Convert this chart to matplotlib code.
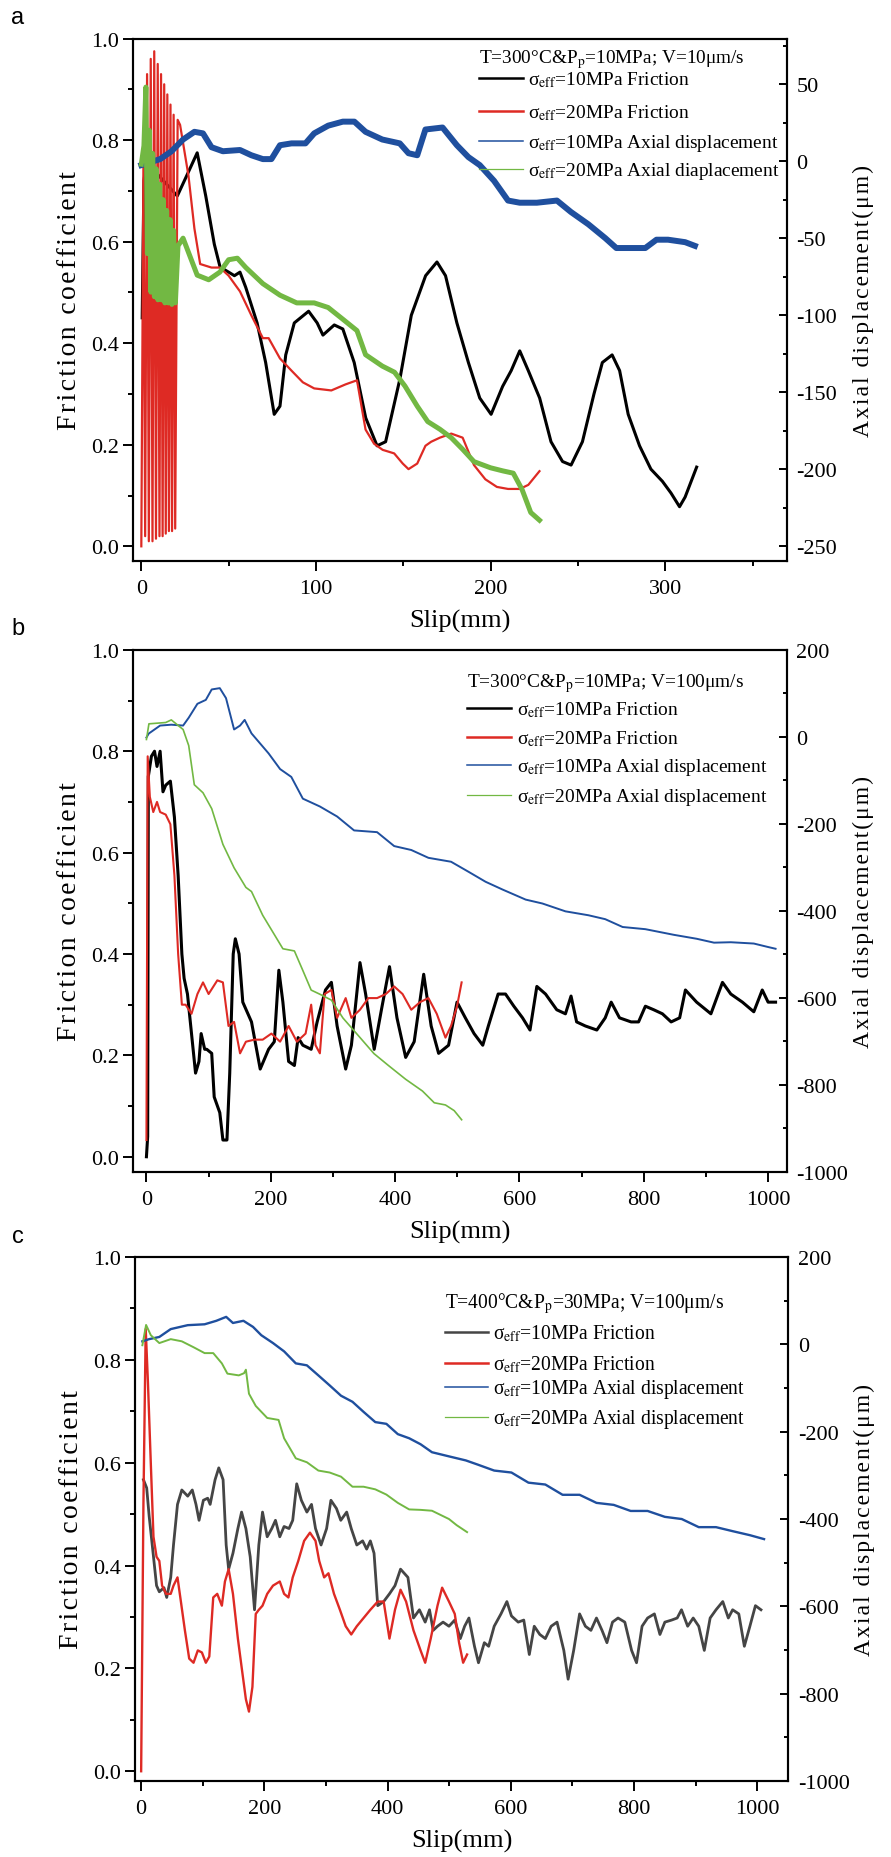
import matplotlib
matplotlib.use("Agg")
import matplotlib.pyplot as plt
from matplotlib.lines import Line2D
from matplotlib.ticker import MultipleLocator

plt.rcParams["font.family"] = ["Liberation Serif", "DejaVu Serif"]
plt.rcParams["mathtext.fontset"] = "stix"
plt.rcParams["axes.unicode_minus"] = False

BLACK = "#000000"
GREY = "#454545"
RED = "#de2a24"
BLUE = "#1f4f9e"
GREEN = "#72b843"

# ---- panel a : T=300C, V=10um/s ----
A_BLACK_X = [0.5, 1.5, 3, 10, 18, 20.6, 26, 32, 36.9, 41.8, 45.1, 50, 53.3, 56.5, 59.8, 66.3, 71.2,
             76.1, 79.4, 82.7, 87.6, 95.8, 100.7, 104, 110.5, 115.4, 121.9, 128.5, 135, 139.9, 148.1,
             154.6, 162.8, 169.3, 174.2, 180.7, 187.3, 193.8, 200.3, 206.9, 211.8, 216.7, 221.6,
             228.1, 234.6, 241.2, 246.1, 252.6, 259.2, 264, 269.6, 273.9, 278.8, 285.3, 291.8,
             298.4, 303.3, 308.2, 311.4, 318]
A_BLACK_Y = [0.45, 0.72, 0.76, 0.73, 0.70, 0.69, 0.73, 0.775, 0.69, 0.595, 0.55, 0.54, 0.533, 0.54,
             0.51, 0.44, 0.362, 0.26, 0.276, 0.377, 0.44, 0.463, 0.44, 0.416, 0.436, 0.428, 0.362,
             0.253, 0.198, 0.206, 0.33, 0.455, 0.533, 0.56, 0.533, 0.44, 0.362, 0.292, 0.26, 0.315,
             0.346, 0.385, 0.346, 0.292, 0.206, 0.167, 0.16, 0.206, 0.30, 0.362, 0.377, 0.346, 0.26,
             0.198, 0.152, 0.128, 0.105, 0.078, 0.097, 0.156]

A_RED_X = [0, 1.2, 2.2, 3.3, 4.3, 5.4, 6.4, 7.4, 8.4, 9.4, 10.4, 11.3, 12.2, 13.1, 14.0, 14.9, 15.8,
           16.7, 17.6, 18.5, 19.4, 20.8, 22.2, 27, 30.4, 33.7, 40.2, 45, 50, 56.5, 63, 69.6, 72.9,
           79.4, 86, 92.5, 99, 108.8, 117, 123.5, 128.4, 133.3, 138.2, 144.8, 149.7, 153, 158,
           162.7, 166, 171, 177.5, 184, 190.5, 197, 203.6, 210, 216.7, 221.6, 228]
A_RED_Y = [0.0, 0.75, 0.02, 0.93, 0.01, 0.96, 0.01, 0.975, 0.015, 0.95, 0.02, 0.93, 0.02, 0.91, 0.025,
           0.89, 0.03, 0.87, 0.03, 0.85, 0.035, 0.84, 0.83, 0.73, 0.626, 0.556, 0.549, 0.549, 0.533,
           0.502, 0.455, 0.41, 0.41, 0.37, 0.346, 0.323, 0.311, 0.307, 0.319, 0.327, 0.23, 0.202,
           0.19, 0.183, 0.163, 0.152, 0.163, 0.198, 0.206, 0.214, 0.222, 0.214, 0.16, 0.132, 0.117,
           0.113, 0.113, 0.121, 0.148]

A_BLUE_X = [0, 10.8, 17.3, 23.9, 30.4, 35.3, 40.2, 46.7, 56.5, 63, 69.6, 74.5, 79.4, 86, 94, 99, 107,
            115.4, 122, 128.4, 138, 148, 153, 158, 162.7, 172.5, 180.7, 187.3, 193.8, 202, 210,
            216.7, 226.5, 238, 246, 256, 265.7, 272, 278.8, 288.6, 295, 301.6, 311.4, 317]
A_BLUE_Y = [-2.6, 1.3, 6.4, 14, 19, 18, 9, 6.4, 7.2, 3.8, 1.3, 1.3, 10.3, 11.5, 11.5, 18, 23, 25.6, 25.6,
            19, 14, 11.5, 5.1, 3.8, 20.5, 21.8, 10.3, 2.6, -2.6, -12.8, -25.6, -27, -27, -25.6, -33,
            -41, -50, -56.4, -56.4, -56.4, -51, -51, -52.6, -55]

A_GREEN_X = [0, 1.5, 2.6, 3.5, 4.5, 5.5, 6.5, 7.5, 8.5, 9.5, 10.5, 11.5, 12.5, 13.5, 14.5, 15.5, 16.5,
             17.5, 18.5, 19.5, 21, 23.9, 32, 38.6, 45, 50, 55, 59.8, 69.6, 79.4, 89, 99, 107, 115.4,
             123.5, 128.4, 138, 145, 151, 158, 164, 171, 177.5, 184, 190.5, 200, 207, 213, 218, 223,
             228]
A_GREEN_Y = [-2, 10, 48, -60, 20, -85, 5, -88, -5, -90, -15, -90, -25, -92, -32, -92, -38, -93, -45,
             -92, -55, -50, -74, -77, -72, -64, -63, -69, -79.5, -87, -92, -92, -95, -102.6, -110,
             -125.6, -133, -137, -146, -159, -169, -174, -179.5, -187, -195, -199, -201, -202.5, -213,
             -228, -233]

# ---- panel b : T=300C, V=100um/s ----
B_BLACK_X = [0, 2, 3, 8, 13, 17, 22, 26.6, 31, 38.5, 45, 51, 57, 60.6, 66, 72.5, 79, 84.5, 88, 93.7,
             97, 105, 109, 118, 123, 129.5, 134, 139.6, 143, 149, 155, 169, 183, 196.5, 205.7, 213,
             219.5, 228.7, 238, 244, 251.6, 265, 274.6, 288, 297.5, 306.7, 320.5, 329.7, 343.5,
             352.6, 366.4, 378, 391, 403, 417, 430.7, 446, 458, 470, 486, 499.6, 513, 527, 541, 550,
             565.7, 577.6, 591, 605, 617, 628, 642, 660, 674, 683, 692, 706, 724.5, 738, 747.6, 761,
             779.6, 791.6, 802.6, 816, 830, 844, 857.7, 867, 885, 908, 926.6, 940, 958.7, 977, 990.6,
             1000, 1012]
B_BLACK_Y = [0.0, 0.04, 0.75, 0.79, 0.80, 0.77, 0.80, 0.72, 0.733, 0.741, 0.67, 0.555, 0.40, 0.352,
             0.321, 0.243, 0.165, 0.188, 0.243, 0.212, 0.212, 0.204, 0.118, 0.087, 0.033, 0.033,
             0.165, 0.40, 0.43, 0.40, 0.305, 0.266, 0.173, 0.212, 0.227, 0.368, 0.305, 0.188, 0.18,
             0.235, 0.22, 0.212, 0.266, 0.329, 0.344, 0.258, 0.173, 0.22, 0.383, 0.321, 0.212, 0.29,
             0.375, 0.274, 0.196, 0.227, 0.36, 0.258, 0.204, 0.22, 0.305, 0.274, 0.243, 0.22, 0.258,
             0.321, 0.321, 0.297, 0.274, 0.25, 0.336, 0.321, 0.29, 0.282, 0.317, 0.266, 0.258, 0.25,
             0.274, 0.305, 0.274, 0.266, 0.266, 0.297, 0.29, 0.282, 0.266, 0.274, 0.329, 0.305, 0.282,
             0.344, 0.321, 0.305, 0.286, 0.329, 0.305, 0.305]

B_RED_X = [0, 2, 5.5, 11, 17, 22, 31, 38.5, 45, 51, 57, 63, 72.5, 82, 91, 100, 114, 123, 132, 141,
           150.6, 160, 173.6, 187, 201, 215, 228.7, 242, 256, 265, 272, 279, 286.5, 297.5, 306.7,
           320.5, 329.7, 343.5, 357, 371, 385, 398.5, 412, 426, 440, 453.6, 467, 481, 490, 499.6, 507]
B_RED_Y = [0.033, 0.79, 0.71, 0.68, 0.70, 0.68, 0.675, 0.656, 0.555, 0.40, 0.30, 0.30, 0.282, 0.321,
           0.344, 0.321, 0.348, 0.344, 0.258, 0.266, 0.204, 0.227, 0.231, 0.231, 0.243, 0.227, 0.258,
           0.227, 0.243, 0.30, 0.22, 0.204, 0.321, 0.329, 0.274, 0.313, 0.274, 0.29, 0.313, 0.313,
           0.321, 0.336, 0.321, 0.29, 0.305, 0.313, 0.282, 0.235, 0.258, 0.297, 0.344]

B_BLUE_X = [0, 3.7, 22, 40, 59, 68, 82, 95.5, 105, 118, 128, 141, 150.6, 158, 169, 196.5, 215, 233,
            251.6, 279, 306.7, 334, 371, 398.5, 426, 453.6, 490, 518, 545.5, 573, 610, 637, 674, 711,
            738, 766, 802.6, 848.5, 885, 913, 940, 977, 1000, 1012]
B_BLUE_Y = [-1.5, 7.6, 26, 28, 26, 44, 76, 85, 109, 112, 89, 17, 26, 39, 8, -38, -74, -92, -142, -160,
            -183, -215, -219, -251, -260, -278, -287, -310, -333, -351, -374, -383, -401, -410, -419,
            -437, -442, -455, -464, -473, -472, -475, -483, -487]

B_GREEN_X = [0, 4, 31, 40, 59, 68, 77, 91, 105, 123, 141, 160, 169, 187, 206, 219.5, 238, 251.6, 265,
             279, 297.5, 316, 343.5, 366, 389, 417, 444, 463, 481, 495, 507]
B_GREEN_Y = [-6, 30, 33, 39, 17, -20, -110, -128.5, -165, -247, -301, -346, -355.5, -410, -455, -487,
             -492, -537, -582, -591.5, -605, -646, -691, -728, -755, -787, -814, -841, -846, -859, -880]

# ---- panel c : T=400C, Pp=30MPa, V=100um/s ----
C_BLACK_X = [3.7, 9, 13, 18, 25, 29.5, 37, 41.5, 48, 52.5, 59, 66, 75.6, 83, 89, 94, 101, 108, 112, 120,
             126, 133, 138, 142, 149, 157, 163, 170, 177, 184, 191, 197, 204.6, 212, 218, 225, 232, 240,
             246, 252.5, 260, 269, 276.5, 283, 292, 301, 308, 317, 324, 333.6, 341, 350, 359.5, 366,
             372, 378, 384, 393.6, 403, 412, 421, 433, 442, 451.6, 461, 468, 474, 481, 490, 499.6,
             509, 518, 525, 532, 541, 547.5, 557, 564, 573, 584, 593.6, 601, 612, 621, 630, 638, 647,
             656, 665.5, 675, 686, 693, 702, 711.6, 721, 730, 739, 748, 756, 765, 774, 785, 796, 804,
             813, 822, 833, 842, 850, 861, 870, 877, 887, 896, 905, 914, 923.5, 933, 944, 953, 960,
             970, 979, 988, 997, 1006]
C_BLACK_Y = [0.567, 0.551, 0.496, 0.44, 0.361, 0.349, 0.357, 0.338, 0.377, 0.44, 0.519, 0.547, 0.535,
             0.547, 0.519, 0.488, 0.527, 0.531, 0.519, 0.567, 0.59, 0.567, 0.44, 0.393, 0.424, 0.472,
             0.504, 0.472, 0.417, 0.314, 0.44, 0.504, 0.456, 0.472, 0.488, 0.456, 0.476, 0.472, 0.488,
             0.559, 0.527, 0.504, 0.519, 0.472, 0.44, 0.472, 0.527, 0.511, 0.488, 0.504, 0.472, 0.44,
             0.448, 0.432, 0.448, 0.424, 0.322, 0.33, 0.345, 0.361, 0.393, 0.377, 0.298, 0.314, 0.29,
             0.314, 0.274, 0.282, 0.29, 0.282, 0.294, 0.258, 0.282, 0.298, 0.243, 0.211, 0.25, 0.243,
             0.282, 0.306, 0.33, 0.302, 0.29, 0.294, 0.227, 0.282, 0.266, 0.258, 0.282, 0.29, 0.235,
             0.179, 0.235, 0.306, 0.282, 0.274, 0.298, 0.274, 0.25, 0.29, 0.298, 0.29, 0.235, 0.211,
             0.282, 0.298, 0.306, 0.266, 0.29, 0.294, 0.298, 0.314, 0.282, 0.298, 0.282, 0.235, 0.298,
             0.314, 0.33, 0.298, 0.314, 0.306, 0.243, 0.282, 0.322, 0.314]

C_RED_X = [0, 3.7, 7.4, 11, 15.7, 20, 25, 29.5, 34, 40.5, 48, 52.5, 59, 64.5, 71, 78, 85, 92, 98.6,
           105, 110.6, 117, 123.5, 131, 136, 142, 149, 157, 163, 170, 175, 180.6, 186, 191, 197,
           204.6, 214, 225, 232, 239, 246, 255, 264.5, 274, 283, 289, 297, 304, 313, 322.6, 332, 341,
           350, 361, 372, 384, 393.6, 403, 412, 421, 430, 442, 453.5, 461, 470, 481, 488.5, 499.6,
           509, 516, 522.6, 529]
C_RED_Y = [0.0, 0.52, 0.86, 0.757, 0.598, 0.456, 0.417, 0.409, 0.361, 0.345, 0.345, 0.361, 0.377, 0.33,
           0.274, 0.219, 0.211, 0.235, 0.231, 0.211, 0.223, 0.338, 0.345, 0.322, 0.369, 0.393, 0.345,
           0.258, 0.203, 0.14, 0.116, 0.164, 0.306, 0.314, 0.322, 0.345, 0.361, 0.369, 0.345, 0.338,
           0.377, 0.409, 0.448, 0.464, 0.448, 0.409, 0.377, 0.385, 0.345, 0.314, 0.282, 0.266, 0.282,
           0.298, 0.314, 0.33, 0.33, 0.258, 0.314, 0.353, 0.33, 0.274, 0.235, 0.211, 0.258, 0.322,
           0.357, 0.33, 0.306, 0.25, 0.211, 0.227]

C_BLUE_X = [2, 13, 29.5, 48, 75.6, 103, 122, 138, 149, 166, 181.6, 195, 214, 232, 251, 269, 287.6, 306,
            324.4, 343, 361, 380, 398, 416.6, 435, 453.5, 472, 499.6, 527, 545.6, 573, 601, 628.6, 656,
            684, 711.6, 739, 767, 794.5, 822, 850, 877.4, 905, 933, 960, 988, 1011]
C_BLUE_Y = [7, 12, 17, 35, 44, 46, 54, 63, 49, 54, 40, 21, 3, -16, -43.5, -48, -71, -94, -117.6, -131.5,
            -154.6, -178, -182, -205.6, -215, -228.7, -247, -256.5, -265.8, -275, -289, -293.5, -316.7,
            -321, -344.5, -344.5, -363, -367.6, -381.5, -381.5, -395, -400, -418.6, -418.6, -427.8,
            -437, -446]

C_GREEN_X = [2, 8, 15.7, 29.5, 48, 66, 85, 103, 117, 131, 140, 158.5, 167, 170, 175, 186, 204.6, 223,
             232, 251, 269, 287.6, 306, 324.4, 343, 361, 380, 398, 416.6, 435, 453.5, 472, 499.6,
             512, 529]
C_GREEN_Y = [-2, 44.5, 21, 3, 12, 7, -6.5, -20, -20, -43.5, -67, -71, -66, -58, -113, -141, -168.5,
             -173, -215, -261, -270, -289, -293.5, -303, -326, -326, -332, -344, -363, -378, -379,
             -381, -400, -414, -430]

# legend layout per panel, in figure pixels measured from the top-left corner
PANELS = [
    dict(letter="a", rect=[0.149, 0.6975, 0.734, 0.2812],
         title=r"T=300°C&P$_{\mathrm{p}}$=10MPa; V=10μm/s", green_word="diaplacement",
         black=(A_BLACK_X, A_BLACK_Y), red=(A_RED_X, A_RED_Y),
         blue=(A_BLUE_X, A_BLUE_Y), green=(A_GREEN_X, A_GREEN_Y),
         black_color=BLACK, lw=(2.2, 1.6, 4.3, 3.6),
         xlim=(-4.9, 369.6), xmaj=100, xmin=50,
         ylim2=(-259.5, 79.5), y2min=25, y2ticks=[50, 0, -50, -100, -150, -200, -250],
         ylim=(-0.029, 1.0),
         leg=dict(x0=479, x1=523, tx=528, ty=57, rows=[79, 112, 142, 170], tw=267, lw=252)),
    dict(letter="b", rect=[0.149, 0.3687, 0.734, 0.2810],
         title=r"T=300°C&P$_{\mathrm{p}}$=10MPa; V=100μm/s", green_word="displacement",
         black=(B_BLACK_X, B_BLACK_Y), red=(B_RED_X, B_RED_Y),
         blue=(B_BLUE_X, B_BLUE_Y), green=(B_GREEN_X, B_GREEN_Y),
         black_color=BLACK, lw=(2.2, 1.5, 1.4, 1.2),
         xlim=(-22, 1030), xmaj=200, xmin=100,
         ylim2=(-1000, 200), y2min=100, y2ticks=[200, 0, -200, -400, -600, -800, -1000],
         ylim=(-0.03, 1.0),
         leg=dict(x0=467, x1=511, tx=517, ty=681, rows=[709, 737.5, 766, 795.5], tw=279, lw=251)),
    dict(letter="c", rect=[0.1515, 0.0409, 0.733, 0.2820],
         title=r"T=400°C&P$_{\mathrm{p}}$=30MPa; V=100μm/s", green_word="displacement",
         black=(C_BLACK_X, C_BLACK_Y), red=(C_RED_X, C_RED_Y),
         blue=(C_BLUE_X, C_BLUE_Y), green=(C_GREEN_X, C_GREEN_Y),
         black_color=GREY, lw=(2.0, 1.7, 1.7, 1.4),
         xlim=(-10, 1050), xmaj=200, xmin=100,
         ylim2=(-1000, 200), y2min=100, y2ticks=[200, 0, -200, -400, -600, -800, -1000],
         ylim=(-0.019, 1.0),
         leg=dict(x0=445, x1=488, tx=493, ty=1302, rows=[1333, 1364, 1388, 1418], tw=280, lw=253)),
]

FIG_W, FIG_H = 891, 1858
TICK_FS = 16
HAIR = "\u200a"


def spaced(text):
    # the original labels are set with loose letter spacing
    return HAIR.join(text)


def fx(px):
    return px / FIG_W


def fy(py):
    return 1 - py / FIG_H


def fit_width(fig, txt, target_px):
    renderer = fig.canvas.get_renderer()
    width = txt.get_window_extent(renderer).width
    txt.set_fontsize(txt.get_fontsize() * target_px / width)


def draw_legend(fig, p):
    lay = p["leg"]
    title = fig.text(fx(lay["x0"]), fy(lay["ty"] + 6.5), p["title"], fontsize=14,
                     ha="left", va="baseline")
    fit_width(fig, title, lay["tw"])

    colors = [p["black_color"], RED, BLUE, GREEN]
    widths = [1.8, 1.8, 1.1, 0.9]
    labels = [
        r"σ$_{\mathrm{eff}}$=10MPa Friction",
        r"σ$_{\mathrm{eff}}$=20MPa Friction",
        r"σ$_{\mathrm{eff}}$=10MPa Axial displacement",
        r"σ$_{\mathrm{eff}}$=20MPa Axial " + p["green_word"],
    ]
    texts = []
    for row_y, color, width, label in zip(lay["rows"], colors, widths, labels):
        fig.add_artist(Line2D([fx(lay["x0"]), fx(lay["x1"])], [fy(row_y), fy(row_y)],
                              transform=fig.transFigure, color=color, lw=width))
        texts.append(fig.text(fx(lay["tx"]), fy(row_y + 6.5), label, fontsize=14,
                              ha="left", va="baseline"))
    fit_width(fig, texts[2], lay["lw"])
    for t in texts:
        t.set_fontsize(texts[2].get_fontsize())


def draw_panel(fig, p):
    ax = fig.add_axes(p["rect"])
    ax2 = ax.twinx()

    lw_k, lw_r, lw_b, lw_g = p["lw"]
    ax.plot(*p["black"], color=p["black_color"], lw=lw_k, zorder=3)
    ax.plot(*p["red"], color=RED, lw=lw_r, zorder=4)
    ax2.plot(*p["blue"], color=BLUE, lw=lw_b)
    ax2.plot(*p["green"], color=GREEN, lw=lw_g)

    ax.set_xlim(*p["xlim"])
    ax.set_ylim(*p["ylim"])
    ax.xaxis.set_major_locator(MultipleLocator(p["xmaj"]))
    ax.xaxis.set_minor_locator(MultipleLocator(p["xmin"]))
    ax.set_yticks([0.0, 0.2, 0.4, 0.6, 0.8, 1.0])
    ax.set_yticklabels(["0.0", "0.2", "0.4", "0.6", "0.8", "1.0"])
    ax.yaxis.set_minor_locator(MultipleLocator(0.1))
    ax2.set_yticks(p["y2ticks"])
    ax2.yaxis.set_minor_locator(MultipleLocator(p["y2min"]))
    ax2.set_ylim(*p["ylim2"])

    for spine in list(ax.spines.values()) + list(ax2.spines.values()):
        spine.set_linewidth(1.5)

    ax.tick_params(axis="both", which="major", direction="out", length=7, width=1.4,
                   labelsize=TICK_FS)
    ax.tick_params(axis="both", which="minor", direction="out", length=3.5, width=1.4)
    ax.tick_params(axis="y", which="major", pad=3)
    ax.tick_params(axis="x", which="major", pad=6)
    ax2.tick_params(axis="y", which="major", direction="in", length=6, width=1.4,
                    labelsize=TICK_FS, pad=7)
    ax2.tick_params(axis="y", which="minor", direction="in", length=3, width=1.4)

    ax.set_xlabel("Slip(mm)", fontsize=19)
    ax.xaxis.set_label_coords(0.5, -0.092)
    ax.set_ylabel(spaced("Friction coefficient"), fontsize=20)
    ax.yaxis.set_label_coords(-0.078, 0.5)
    ax2.set_ylabel(spaced("Axial displacement(μm)"), fontsize=17, rotation=90)
    ax2.yaxis.set_label_coords(1.101, 0.5)

    draw_legend(fig, p)

    bbox = ax.get_position()
    fig.text(0.02, bbox.y1 + 0.0115, p["letter"], family="Liberation Sans",
             fontsize=17, ha="center", va="center")
    return ax, ax2


def main():
    fig = plt.figure(figsize=(FIG_W / 100, FIG_H / 100), dpi=100)
    for p in PANELS:
        draw_panel(fig, p)
    fig.savefig("out.png", dpi=100)
    plt.close(fig)


if __name__ == "__main__":
    main()
